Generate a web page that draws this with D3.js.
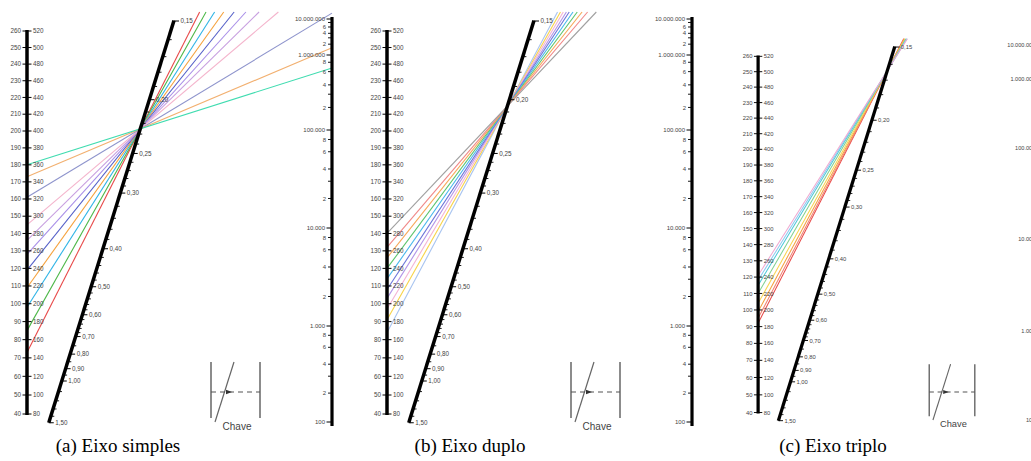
<!DOCTYPE html>
<html><head><meta charset="utf-8">
<script src="https://cdn.jsdelivr.net/npm/d3@7"></script>
<style>body{margin:0;background:#fff;} svg{display:block;}</style>
</head><body><svg id="chart" width="1031" height="461"></svg>
<script>
// ---------------- data ----------------
const loadTicks = [40,50,60,70,80,90,100,110,120,130,140,150,160,170,180,190,200,210,220,230,240,250,260];
const ratioMajor = [0.15,0.20,0.25,0.30,0.40,0.50,0.60,0.70,0.80,0.90,1.00,1.50];
const ratioMinor = [0.16,0.17,0.18,0.19,0.21,0.22,0.23,0.24,0.26,0.27,0.28,0.29,0.32,0.34,0.36,0.38,
                    0.42,0.44,0.46,0.48,0.52,0.54,0.56,0.58,0.62,0.64,0.66,0.68,0.75,0.85,0.95,1.1,1.2,1.3,1.4];
const repDecades = [100,1000,10000,100000,1000000,10000000];
const repMultiples = [2,3,4,6,8];
const repLabeled = [2,4,6,8];
const captions = ["(a) Eixo simples","(b) Eixo duplo","(c) Eixo triplo"];

// panel (a) eixo simples
const loadsA  = [73,85,98,109,119,128,136,145,161,173,180];
const colorsA = ["#e84a4a","#4db848","#2fb4e6","#f5a23c","#5560c8","#a88ee8","#c8a0e0","#f4b4cc","#8e94cc","#f2b070","#40dcb0"];
const pivotA  = 0.225;
// panel (b) eixo duplo
const loadsB  = [84,91,97,103,108,114,120,126,132,140];
const colorsB = ["#a8c4f0","#f7d44a","#f4b4d4","#b294e8","#6a74d8","#4ab8ec","#5cc46c","#f7a858","#f08888","#a0a0a0"];
const pivotB  = 0.205;
// panel (c) eixo triplo
const loadsC  = [92,95,99,104,110,115,118,121];
const colorsC = ["#e84848","#f08070","#f5a040","#f7d450","#80d090","#4cc8d8","#90c8f0","#f0a8d0"];
const pivotC  = 0.1635;

// ---------------- layout ----------------
const svg = d3.select("#chart");
svg.append("rect").attr("width",1031).attr("height",461).attr("fill","#fff");

const xLoadAxis = 27, xRepAxis = 332, clipTop = 12;
const yLoad  = d3.scalePow().exponent(0.92).domain([40,260]).range([414,31]);
const yRatio = d3.scalePow().exponent(-0.5).domain([0.15,1.0]).range([21,381]);
const xMid   = d3.scaleLinear().domain([21,422]).range([174,49]);
const yRepLog = d3.scaleLinear().domain([2,3,4,5,6,7]).range([422,326,228,130,55,19]);
const yRep = v => yRepLog(Math.log10(v));

const ptLocale = d3.formatLocale({decimal:",", thousands:".", grouping:[3], currency:["",""]});
const fmtRep = ptLocale.format(",d");
const fmtRatio = ptLocale.format(".2f");

const panels = [
  {tx:0,   ty:0,    s:1,    loads:loadsA, colors:colorsA, pivot:pivotA},
  {tx:360, ty:0,    s:1,    loads:loadsB, colors:colorsB, pivot:pivotB},
  {tx:733, ty:27.5, s:0.93, loads:loadsC, colors:colorsC, pivot:pivotC}
];
const FONT = "'Liberation Sans', Arial, sans-serif";
const txtCol = "#444";

panels.forEach(p => {
  const g = svg.append("g").attr("transform", `translate(${p.tx},${p.ty}) scale(${p.s})`);

  // ---- lines through pivot ----
  const py = yRatio(p.pivot), px = xMid(py);
  p.loads.forEach((L, i) => {
    const x0 = xLoadAxis, y0 = yLoad(L);
    const dx = px - x0, dy = py - y0;
    const tY = (clipTop - y0) / dy;
    const tX = (xRepAxis - x0) / dx;
    const t = Math.min(tY, tX);
    g.append("line")
      .attr("x1", x0).attr("y1", y0)
      .attr("x2", x0 + t*dx).attr("y2", y0 + t*dy)
      .attr("stroke", p.colors[i]).attr("stroke-width", 1.1);
  });

  // ---- left axis (load) ----
  g.append("line").attr("x1",xLoadAxis).attr("x2",xLoadAxis)
    .attr("y1",yLoad(260)-1).attr("y2",yLoad(40)+1)
    .attr("stroke","#000").attr("stroke-width",3.5);
  loadTicks.forEach(v => {
    const y = yLoad(v);
    g.append("line").attr("x1",xLoadAxis-4.5).attr("x2",xLoadAxis+4.5)
      .attr("y1",y).attr("y2",y).attr("stroke","#000").attr("stroke-width",1);
    g.append("text").attr("x",xLoadAxis-6).attr("y",y).attr("dy","0.35em")
      .attr("text-anchor","end").attr("font-family",FONT).attr("font-size",6.3)
      .attr("fill",txtCol).text(v);
    g.append("text").attr("x",xLoadAxis+6).attr("y",y).attr("dy","0.35em")
      .attr("text-anchor","start").attr("font-family",FONT).attr("font-size",6.3)
      .attr("fill",txtCol).text(2*v);
  });

  // ---- middle slanted axis (ratio) ----
  const yTop = yRatio(0.15), yBot = yRatio(1.5);
  g.append("line").attr("x1",xMid(yTop)).attr("y1",yTop-0.5)
    .attr("x2",xMid(yBot)).attr("y2",yBot)
    .attr("stroke","#000").attr("stroke-width",3.5);
  ratioMinor.forEach(v => {
    const y = yRatio(v), x = xMid(y);
    g.append("line").attr("x1",x).attr("x2",x+3.5).attr("y1",y).attr("y2",y)
      .attr("stroke","#000").attr("stroke-width",0.9);
  });
  ratioMajor.forEach(v => {
    const y = yRatio(v), x = xMid(y);
    g.append("line").attr("x1",x).attr("x2",x+5).attr("y1",y).attr("y2",y)
      .attr("stroke","#000").attr("stroke-width",1);
    g.append("text").attr("x",x+6.5).attr("y",y).attr("dy","0.35em")
      .attr("font-family",FONT).attr("font-size",6.3).attr("fill",txtCol)
      .text(fmtRatio(v));
  });

  // ---- right axis (repetitions) ----
  g.append("line").attr("x1",xRepAxis).attr("x2",xRepAxis)
    .attr("y1",yRep(1e7)-2).attr("y2",yRep(100)+4)
    .attr("stroke","#000").attr("stroke-width",3.2);
  repDecades.forEach((d, k) => {
    const y = yRep(d);
    g.append("line").attr("x1",xRepAxis-5.5).attr("x2",xRepAxis).attr("y1",y).attr("y2",y)
      .attr("stroke","#000").attr("stroke-width",1);
    g.append("text").attr("x",xRepAxis-7).attr("y",y).attr("dy","0.35em")
      .attr("text-anchor","end").attr("font-family",FONT).attr("font-size",6)
      .attr("fill",txtCol).text(fmtRep(d));
    if (k < repDecades.length - 1) {
      const yNext = yRep(d*10);
      repMultiples.forEach(m => {
        const ym = yRep(d*m);
        g.append("line").attr("x1",xRepAxis-4).attr("x2",xRepAxis).attr("y1",ym).attr("y2",ym)
          .attr("stroke","#000").attr("stroke-width",0.9);
        if (repLabeled.includes(m) && Math.abs(ym - yNext) > 6) {
          g.append("text").attr("x",xRepAxis-6).attr("y",ym).attr("dy","0.35em")
            .attr("text-anchor","end").attr("font-family",FONT).attr("font-size",6)
            .attr("fill",txtCol).text(m);
        }
      });
    }
  });

  // ---- key ("Chave") ----
  const kg = g.append("g");
  [211,260].forEach(x => kg.append("line").attr("x1",x).attr("x2",x).attr("y1",362).attr("y2",418)
    .attr("stroke","#666").attr("stroke-width",1.5));
  kg.append("line").attr("x1",234).attr("y1",362).attr("x2",215).attr("y2",422)
    .attr("stroke","#666").attr("stroke-width",1.2);
  kg.append("line").attr("x1",211).attr("y1",392).attr("x2",260).attr("y2",392)
    .attr("stroke","#555").attr("stroke-width",1.2).attr("stroke-dasharray","5,4");
  kg.append("path").attr("d","M226,389.8L232,392L226,394.2Z").attr("fill","#333");
  kg.append("text").attr("x",237).attr("y",430).attr("text-anchor","middle")
    .attr("font-family",FONT).attr("font-size",10).attr("fill","#444").text("Chave");
});

// ---- captions ----
const capX = [118, 470, 833];
captions.forEach((c, i) => {
  svg.append("text").attr("x",capX[i]).attr("y",452).attr("text-anchor","middle")
    .attr("font-family","'Liberation Serif','Times New Roman',serif").attr("font-size",19)
    .attr("fill","#000").text(c);
});
</script></body></html>
